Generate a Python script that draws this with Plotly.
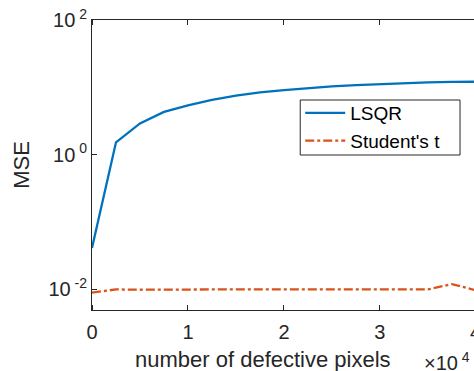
import plotly.graph_objects as go

# x in units of 10^4 defective pixels
x_vals = [0, 0.25, 0.5, 0.75, 1.0, 1.25, 1.5, 1.75, 2.0, 2.25, 2.5, 2.75, 3.0, 3.25, 3.5, 3.75, 4.0]
lsqr_mse = [0.041, 1.52, 2.9, 4.3, 5.4, 6.5, 7.5, 8.4, 9.1, 9.8, 10.3, 10.8, 11.2, 11.5, 11.8, 12.0, 12.1]
student_mse = [0.0089, 0.0099, 0.0098, 0.0099, 0.0100, 0.0099, 0.0099, 0.0099, 0.0099, 0.0099, 0.0098, 0.0099, 0.0099, 0.0099, 0.0099, 0.0119, 0.0096]
series_names = ["LSQR", "Student's t"]
x_ticks = [0, 1, 2, 3, 4]
y_ticks = [0.01, 1, 100]
y_tick_text = ["10<sup> -2</sup>", "10<sup> 0</sup>", "10<sup> 2</sup>"]
x_title = "number of defective pixels"
y_title = "MSE"

FONT = "Liberation Sans, Arial, Helvetica, sans-serif"
TXT = "#262626"
AX = "#262626"

L, T, B = 91.5, 20, 61
W, H = 474, 371
PLOT_W = W - L
PLOT_H = H - T - B
PX_PER_UNIT = 96.1


def px_x(px):
    return (px - L) / PLOT_W


def px_y(py):
    return (H - B - py) / PLOT_H


fig = go.Figure()
fig.add_trace(go.Scatter(x=x_vals, y=lsqr_mse, mode="lines", name=series_names[0],
                         line=dict(color="#0072BD", width=2.3)))
fig.add_trace(go.Scatter(x=x_vals, y=student_mse, mode="lines", name=series_names[1],
                         line=dict(color="#D95319", width=2.3, dash="dashdot")))

fig.update_layout(
    width=W, height=H,
    margin=dict(l=L, r=0, t=T, b=B, pad=0),
    paper_bgcolor="white", plot_bgcolor="white",
    font=dict(family=FONT, size=20, color=TXT),
    showlegend=True,
    legend=dict(x=px_x(300), y=px_y(94), xanchor="left", yanchor="top",
                bgcolor="rgba(0,0,0,0)", borderwidth=0, itemwidth=40,
                font=dict(family=FONT, size=19, color="black")),
    xaxis=dict(range=[0, PLOT_W / PX_PER_UNIT], tickvals=x_ticks[:4], ticktext=[str(t) for t in x_ticks[:4]],
               showline=True, linecolor=AX, linewidth=1, mirror="ticks",
               ticks="outside", ticklen=4, tickcolor="rgba(0,0,0,0)",
               minor=dict(ticks="inside", tickvals=x_ticks[:4], ticklen=5, tickcolor=AX, showgrid=False),
               showgrid=False, zeroline=False,
               tickfont=dict(size=20, color=TXT)),
    yaxis=dict(type="log", range=[-2.31, 2], tickvals=y_ticks, ticktext=y_tick_text,
               showline=True, linecolor=AX, linewidth=1, mirror=False,
               ticks="inside", ticklen=5, tickcolor=AX, showgrid=False, zeroline=False,
               tickfont=dict(size=20, color=TXT),
               title=dict(text=y_title, font=dict(size=22, color=TXT), standoff=12)),
)

# legend frame
fig.add_shape(type="rect", xref="paper", yref="paper",
              x0=px_x(300), x1=px_x(460), y0=px_y(155), y1=px_y(100),
              line=dict(color=AX, width=1), fillcolor="white", layer="above")

# x-axis title
fig.add_annotation(x=px_x(263), y=px_y(359), xref="paper", yref="paper",
                   text=x_title, showarrow=False, xanchor="center", yanchor="middle",
                   font=dict(size=22, color=TXT))
# tick label "4" at the right edge (partially cropped)
fig.add_annotation(x=px_x(L + 4 * PX_PER_UNIT), y=0, xref="paper", yref="paper",
                   text=str(x_ticks[4]), showarrow=False, xanchor="center", yanchor="top", yshift=-9,
                   font=dict(size=20, color=TXT))
# exponent note
fig.add_annotation(x=px_x(472), y=px_y(H), xref="paper", yref="paper",
                   text="\u00d710<sup> 4</sup>", showarrow=False, xanchor="right", yanchor="bottom",
                   yshift=-5, font=dict(size=20, color=TXT))

fig.write_html("out.html")
